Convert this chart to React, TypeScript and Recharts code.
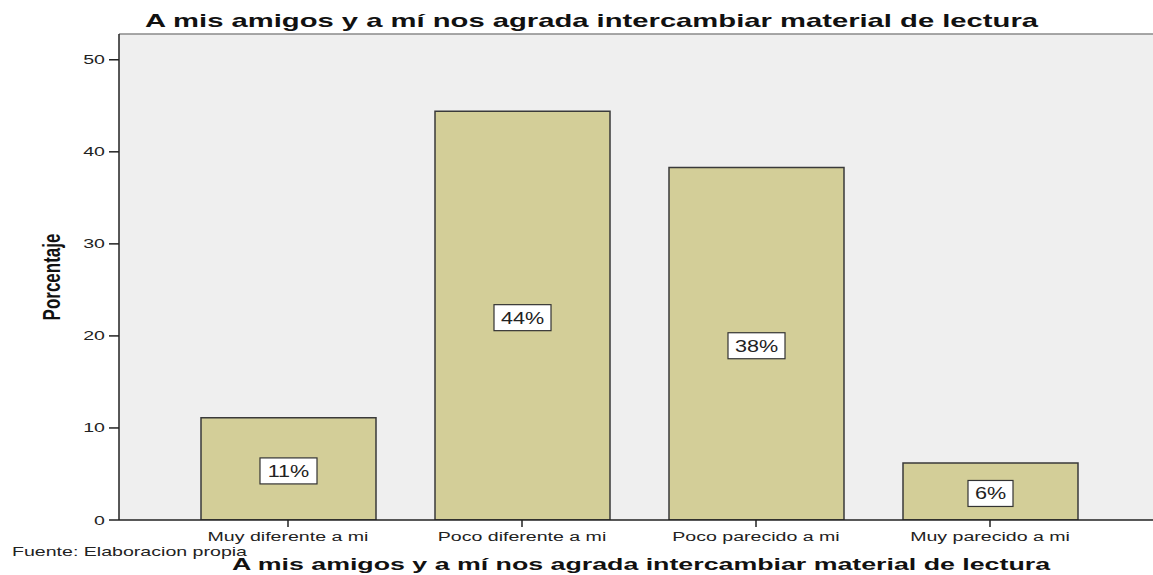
import React from 'react';
import { BarChart, Bar, XAxis, YAxis, CartesianGrid, LabelList, ReferenceLine } from 'recharts';

const categories = ['Muy diferente a mi', 'Poco diferente a mi', 'Poco parecido a mi', 'Muy parecido a mi'];
const percentages = [11.1, 44.4, 38.3, 6.2];
const yTicks = [0, 10, 20, 30, 40, 50];
const Y_MAX = 52.8;

const TITLE = 'A mis amigos y a mí nos agrada intercambiar material de lectura';
const SOURCE = 'Fuente: Elaboracion propia';
const Y_LABEL = 'Porcentaje';

const data = categories.map((c, i) => ({ name: c, pct: percentages[i] }));

const FONT = 'Arial, "Liberation Sans", sans-serif';
const SX = 1.45; // the reference's text is stretched horizontally

const XTick = (props: any) => {
  const { x, y, payload } = props;
  return (
    <text transform={`translate(${x},${y + 12}) scale(${SX},1)`} textAnchor="middle"
      fontFamily={FONT} fontSize={13.5} fill="#222">
      {payload.value}
    </text>
  );
};

const YTick = (props: any) => {
  const { x, y, payload } = props;
  return (
    <text transform={`translate(${x - 2},${y + 4.5}) scale(${SX},1)`} textAnchor="end"
      fontFamily={FONT} fontSize={13.5} fill="#222">
      {payload.value}
    </text>
  );
};

const ValueBox = (props: any) => {
  const { x, y, width, height, value } = props;
  const txt = `${Math.round(Number(value))}%`;
  const cx = x + width / 2;
  const cy = y + height / 2 + 2;
  const w = 21 + txt.length * 12;
  return (
    <g>
      <rect x={cx - w / 2} y={cy - 13} width={w} height={26} fill="#fff" stroke="#333" strokeWidth={1.2} />
      <text transform={`translate(${cx},${cy + 6}) scale(${SX - 0.1},1)`} textAnchor="middle"
        fontFamily={FONT} fontSize={16} fill="#222">
        {txt}
      </text>
    </g>
  );
};

export default function App() {
  return (
    <div style={{ position: 'absolute', left: 0, top: 0, width: 1153, height: 575, background: '#fff' }}>
      <BarChart width={1153} height={575} data={data} margin={{ top: 34, right: 0, bottom: 25, left: 0 }}>
        <CartesianGrid fill="#efefef" horizontal={false} vertical={false} />
        <ReferenceLine y={Y_MAX} stroke="#8a8a8a" strokeWidth={1.5} />
        <XAxis dataKey="name" height={30} padding={{ left: 52, right: 46 }}
          axisLine={{ stroke: '#222', strokeWidth: 1.5 }} tickLine={{ stroke: '#222', strokeWidth: 1.5 }}
          tickSize={7} tickMargin={2} tick={<XTick />} interval={0} />
        <YAxis width={119} domain={[0, Y_MAX]} ticks={yTicks} allowDataOverflow
          axisLine={{ stroke: '#222', strokeWidth: 1.5 }} tickLine={{ stroke: '#222', strokeWidth: 1.5 }}
          tickSize={10} tickMargin={2} tick={<YTick />} />
        <Bar dataKey="pct" fill="#d3ce98" stroke="#3a3a3a" strokeWidth={1.5} barSize={175} isAnimationActive={false}>
          <LabelList dataKey="pct" content={<ValueBox />} />
        </Bar>
        <text x={145} y={27} textLength={893} lengthAdjust="spacingAndGlyphs"
          fontFamily={FONT} fontWeight="bold" fontSize={18.5} fill="#111">{TITLE}</text>
        <text x={232} y={570} textLength={818} lengthAdjust="spacingAndGlyphs"
          fontFamily={FONT} fontWeight="bold" fontSize={16} fill="#111">{TITLE}</text>
        <text x={12} y={556} textLength={235} lengthAdjust="spacingAndGlyphs"
          fontFamily={FONT} fontSize={13.5} fill="#222">{SOURCE}</text>
        <text transform="translate(60,277) rotate(-90) scale(1,1.45)" textAnchor="middle"
          fontFamily={FONT} fontWeight="bold" fontSize={17} fill="#111">{Y_LABEL}</text>
      </BarChart>
    </div>
  );
}
